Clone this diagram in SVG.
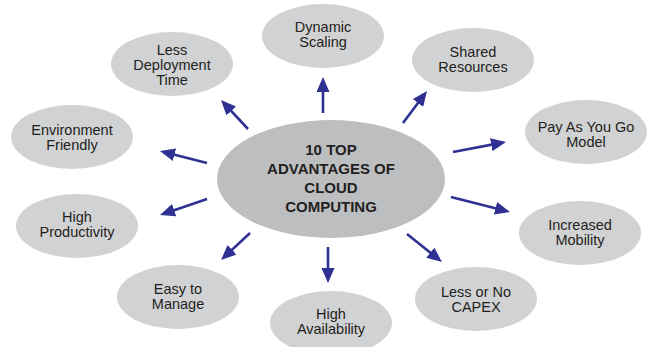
<svg xmlns="http://www.w3.org/2000/svg" width="654" height="347" viewBox="0 0 654 347">
<defs>
<style>
.node ellipse{fill:#d1d2d4;}
#center ellipse{fill:#bcbec0;}
.node text{font-family:"Liberation Sans",Arial,sans-serif;font-size:14.5px;fill:#231f20;text-anchor:middle;}
#center text{font-weight:bold;font-size:15px;}
.conn line{stroke:#2e3192;stroke-width:2.6;marker-end:url(#ah);}
</style>
<marker id="ah" viewBox="0 0 15 13" refX="10" refY="6.5" markerWidth="15" markerHeight="13" markerUnits="userSpaceOnUse" orient="auto">
<path d="M0,0 L15,6.5 L0,13 z" fill="#2e3192"/>
</marker>
</defs>
<rect width="654" height="347" fill="#ffffff"/>
<g class="conn" id="connectors">
<line x1="248" y1="129" x2="224.4" y2="103.7"/>
<line x1="323" y1="113" x2="323" y2="82"/>
<line x1="403" y1="123" x2="424" y2="95"/>
<line x1="453" y1="152" x2="501.1" y2="142.9"/>
<line x1="207" y1="163" x2="164.8" y2="152.2"/>
<line x1="207" y1="199" x2="164.7" y2="213.4"/>
<line x1="250" y1="233" x2="224.7" y2="256.6"/>
<line x1="328" y1="247" x2="328" y2="278"/>
<line x1="407" y1="234" x2="438.1" y2="258.9"/>
<line x1="451" y1="197" x2="505.2" y2="210.8"/>
</g>
<g class="node" id="center">
<ellipse cx="331" cy="179" rx="114" ry="59"/>
<text x="331" y="154.5">10 TOP</text>
<text x="331" y="174">ADVANTAGES OF</text>
<text x="331" y="193">CLOUD</text>
<text x="331" y="212">COMPUTING</text>
</g>
<g class="node" id="less-deployment-time">
<ellipse cx="172" cy="64" rx="61" ry="32"/>
<text x="172" y="54.5">Less</text>
<text x="172" y="69.5">Deployment</text>
<text x="172" y="84.5">Time</text>
</g>
<g class="node" id="dynamic-scaling">
<ellipse cx="323" cy="36" rx="61" ry="32"/>
<text x="323" y="32">Dynamic</text>
<text x="323" y="47">Scaling</text>
</g>
<g class="node" id="shared-resources">
<ellipse cx="473" cy="60" rx="61" ry="32"/>
<text x="473" y="57">Shared</text>
<text x="473" y="72">Resources</text>
</g>
<g class="node" id="pay-as-you-go">
<ellipse cx="586" cy="132" rx="61" ry="32"/>
<text x="586" y="132">Pay As You Go</text>
<text x="586" y="147">Model</text>
</g>
<g class="node" id="environment-friendly">
<ellipse cx="72" cy="137" rx="61" ry="32"/>
<text x="72" y="135">Environment</text>
<text x="72" y="150">Friendly</text>
</g>
<g class="node" id="high-productivity">
<ellipse cx="77" cy="226" rx="61" ry="32"/>
<text x="77" y="221.5">High</text>
<text x="77" y="236.5">Productivity</text>
</g>
<g class="node" id="easy-to-manage">
<ellipse cx="178" cy="297" rx="61" ry="32"/>
<text x="178" y="294">Easy to</text>
<text x="178" y="309">Manage</text>
</g>
<g class="node" id="high-availability">
<ellipse cx="331" cy="323" rx="61" ry="32"/>
<text x="331" y="318.5">High</text>
<text x="331" y="333.5">Availability</text>
</g>
<g class="node" id="less-or-no-capex">
<ellipse cx="476" cy="299" rx="61" ry="32"/>
<text x="476" y="297">Less or No</text>
<text x="476" y="312">CAPEX</text>
</g>
<g class="node" id="increased-mobility">
<ellipse cx="580" cy="233" rx="61" ry="32"/>
<text x="580" y="230">Increased</text>
<text x="580" y="245">Mobility</text>
</g>
</svg>
